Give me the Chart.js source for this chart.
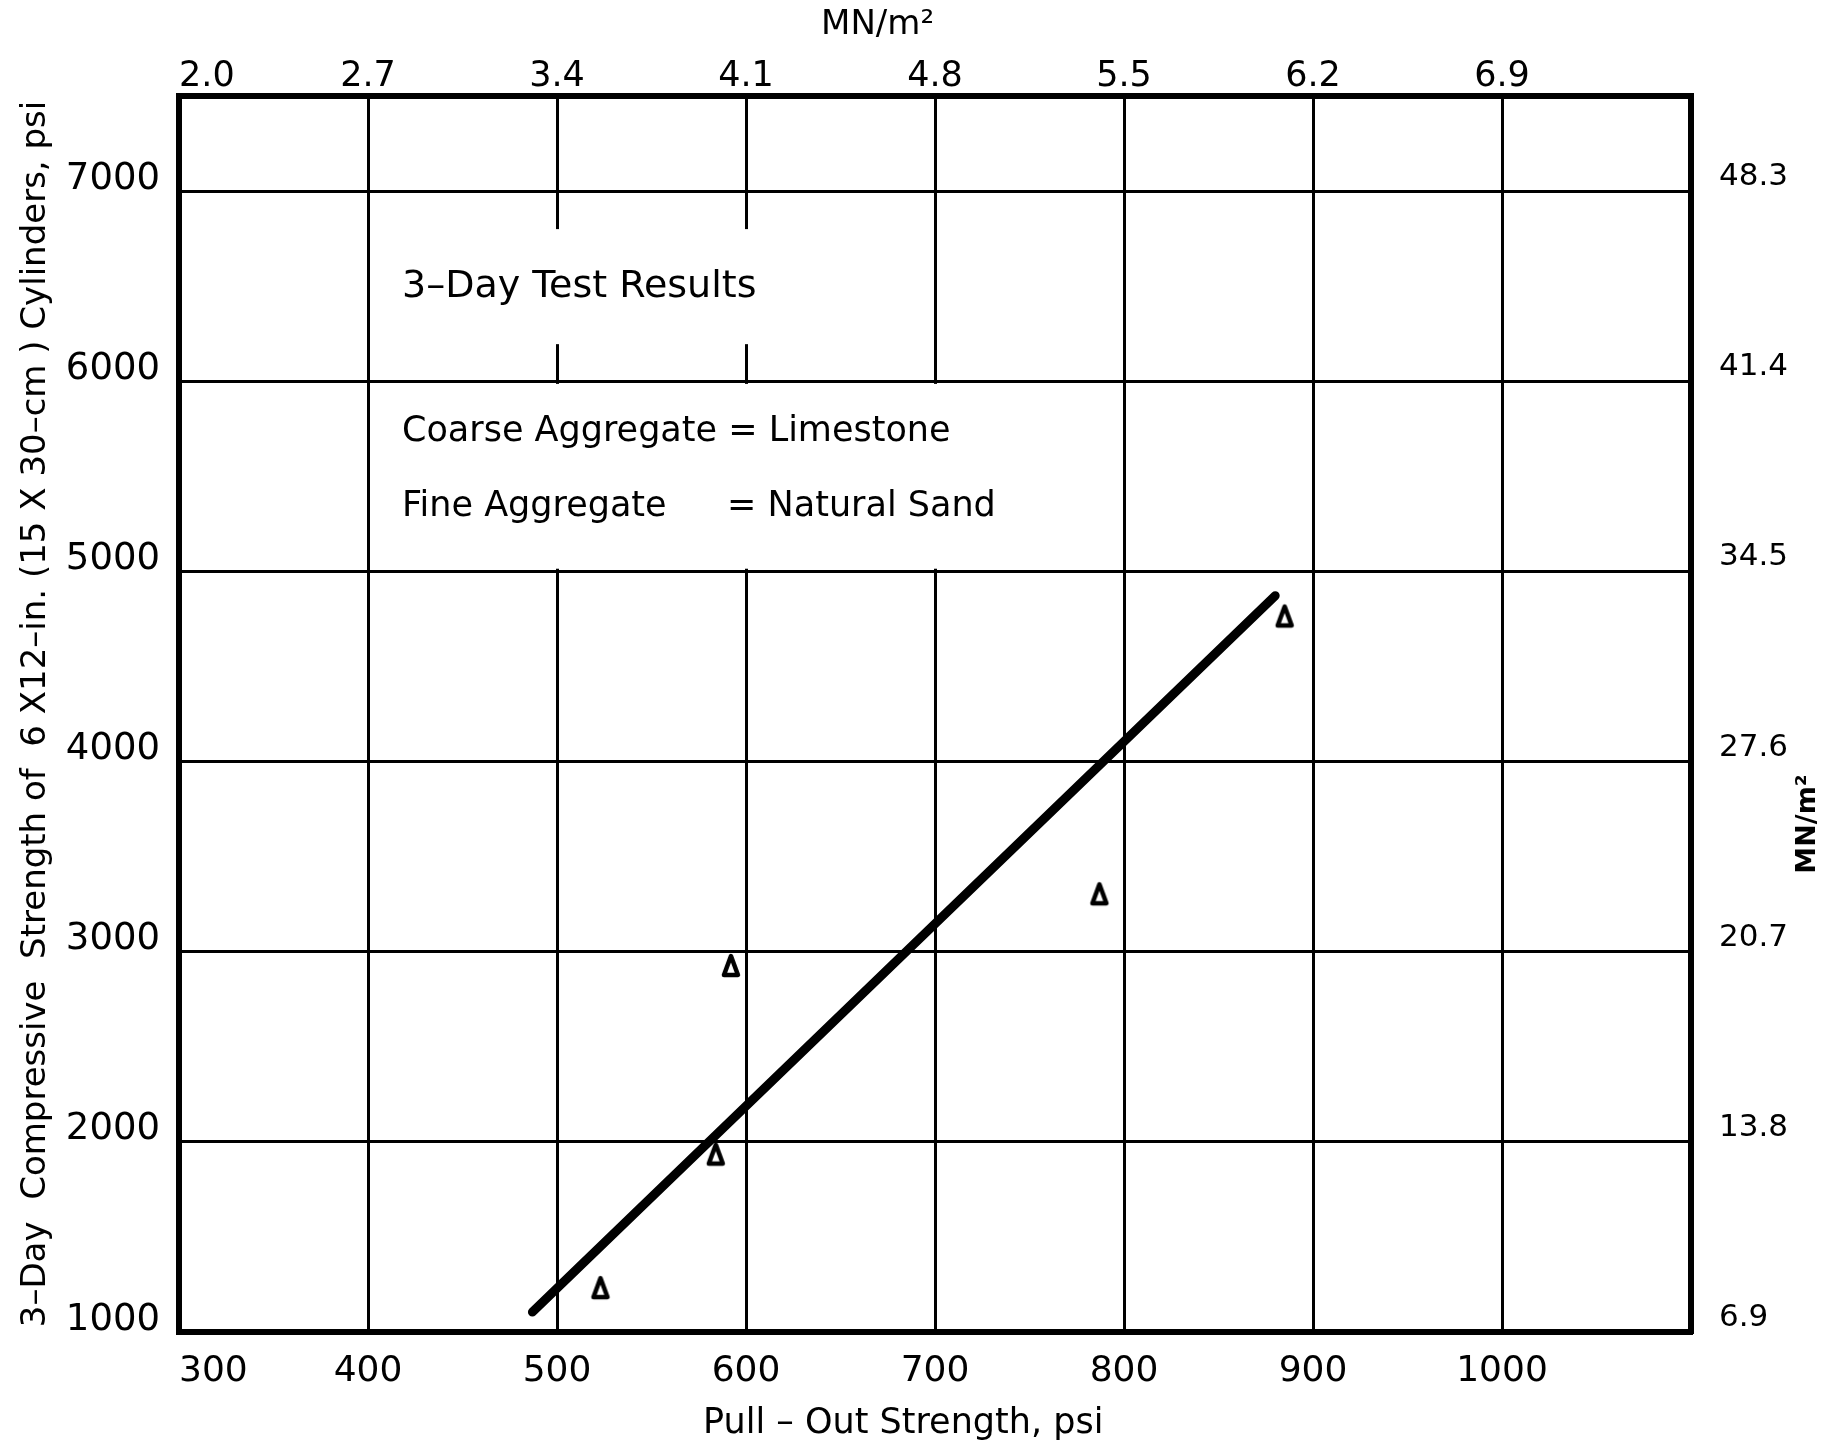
<!DOCTYPE html>
<html>
<head>
<meta charset="utf-8">
<script src="https://cdn.jsdelivr.net/npm/chart.js@4.4.0/dist/chart.umd.min.js"></script>
<style>
html,body{margin:0;padding:0;background:#fff;overflow:hidden}
#wrap{width:1831px;height:1445px;position:relative}
</style>
</head>
<body>
<div id="wrap"><canvas id="c"></canvas></div>
<script>
// ---- data ----
const xTicks = [300, 400, 500, 600, 700, 800, 900, 1000, 1100];
const xBottomLabels = ['300', '400', '500', '600', '700', '800', '900', '1000'];
const xTopLabels = ['2.0', '2.7', '3.4', '4.1', '4.8', '5.5', '6.2', '6.9'];
const yTicks = [1000, 2000, 3000, 4000, 5000, 6000, 7000];
const yLeftLabels = ['1000', '2000', '3000', '4000', '5000', '6000', '7000'];
const yRightLabels = ['6.9', '13.8', '20.7', '27.6', '34.5', '41.4', '48.3'];
const pullOut = [523, 584, 592, 787, 885];
const compressive = [1231, 1933, 2925, 3302, 4763];
const fitX = [487, 880];
const fitY = [1105, 4872];

// ---- styling / layout ----
const FONT = 'DejaVu Sans';
const notes = [
  { text: '3\u2013Day Test Results', x: 418, y: 6495, size: 38 },
  { text: 'Coarse Aggregate = Limestone', x: 418, y: 5732, size: 35 },
  { text: 'Fine Aggregate', x: 418, y: 5337, size: 35 },
  { text: '= Natural Sand', x: 590, y: 5337, size: 35 }
];
const masks = [
  { x0: 450, x1: 650, y0: 6195, y1: 6800 },
  { x0: 450, x1: 750, y0: 5014, y1: 5986 }
];

function triangleMarker() {
  const c = document.createElement('canvas');
  c.width = 24; c.height = 28;
  const g = c.getContext('2d');
  g.lineWidth = 4.5; g.lineJoin = 'round';
  g.strokeStyle = '#000'; g.fillStyle = '#fff';
  g.beginPath();
  g.moveTo(12, 4); g.lineTo(19, 23); g.lineTo(5, 23); g.closePath();
  g.fill(); g.stroke();
  return c;
}

const scatterPts = pullOut.map((v, i) => ({ x: v, y: compressive[i] }));
const linePts = fitX.map((v, i) => ({ x: v, y: fitY[i] }));

const annotatePlugin = {
  id: 'annotate',
  beforeDatasetsDraw(chart) {
    const { ctx, scales: { x, y } } = chart;
    ctx.save();
    ctx.fillStyle = '#fff';
    masks.forEach(m => {
      const px0 = x.getPixelForValue(m.x0), px1 = x.getPixelForValue(m.x1);
      const py0 = y.getPixelForValue(m.y1), py1 = y.getPixelForValue(m.y0);
      ctx.fillRect(px0, py0, px1 - px0, py1 - py0);
    });
    ctx.fillStyle = '#000';
    ctx.textAlign = 'left';
    ctx.textBaseline = 'middle';
    notes.forEach(n => {
      ctx.font = n.size + 'px "' + FONT + '"';
      ctx.fillText(n.text, x.getPixelForValue(n.x), y.getPixelForValue(n.y));
    });
    ctx.restore();
  },
  afterDraw(chart) {
    const { ctx, chartArea: a } = chart;
    ctx.save();
    ctx.fillStyle = '#000';
    ctx.textAlign = 'center';
    ctx.textBaseline = 'middle';
    ctx.font = '34px "' + FONT + '"';
    ctx.fillText('MN/m\u00B2', a.left + 0.462 * (a.right - a.left), 25);
    ctx.font = '35px "' + FONT + '"';
    ctx.fillText('Pull \u2013 Out Strength, psi', a.left + 0.479 * (a.right - a.left), 1424);
    ctx.translate(1808, a.top + 0.589 * (a.bottom - a.top));
    ctx.rotate(-Math.PI / 2);
    ctx.font = 'bold 27px "' + FONT + '"';
    ctx.fillText('MN/m\u00B2', 0, 0);
    ctx.restore();
  }
};

const setTicks = vals => s => { s.ticks = vals.map(v => ({ value: v })); };

new Chart(document.getElementById('c'), {
  type: 'scatter',
  data: {
    datasets: [
      {
        data: scatterPts,
        pointStyle: triangleMarker(),
        pointRadius: 10,
        showLine: false
      },
      {
        data: linePts,
        showLine: true,
        borderColor: '#000',
        borderWidth: 9,
        borderCapStyle: 'round',
        pointRadius: 0
      }
    ]
  },
  options: {
    responsive: true,
    maintainAspectRatio: false,
    animation: false,
    layout: { padding: 0 },
    plugins: { legend: { display: false }, tooltip: { enabled: false } },
    scales: {
      x: {
        type: 'linear', position: 'bottom', min: 300, max: 1100,
        afterBuildTicks: setTicks(xTicks),
        afterFit: s => { s.height = 113; },
        grid: { color: '#000', lineWidth: 3, drawTicks: false },
        border: { display: true, color: '#000', width: 6 },
        ticks: {
          color: '#000', padding: 22, align: 'inner', maxRotation: 0, autoSkip: false,
          font: { family: FONT, size: 36, lineHeight: 1 },
          callback: (v, i) => xBottomLabels[i] ?? ''
        }
      },
      x2: {
        type: 'linear', position: 'top', min: 300, max: 1100,
        afterBuildTicks: setTicks(xTicks),
        afterFit: s => { s.height = 96; },
        grid: { display: false, drawTicks: false, lineWidth: 3 },
        border: { display: true, color: '#000', width: 6 },
        ticks: {
          color: '#000', padding: 2, align: 'inner', maxRotation: 0, autoSkip: false,
          font: { family: FONT, size: 35, lineHeight: 1 },
          callback: (v, i) => xTopLabels[i] ?? ''
        }
      },
      y: {
        type: 'linear', position: 'left', min: 1000, max: 7500,
        afterBuildTicks: setTicks(yTicks),
        afterFit: s => { s.width = 179; },
        grid: { color: '#000', lineWidth: 3, drawTicks: false },
        border: { display: true, color: '#000', width: 6 },
        title: {
          display: true, color: '#000',
          text: '3\u2013Day  Compressive  Strength of  6 X12\u2013in. (15 X 30\u2013cm ) Cylinders, psi',
          font: { family: FONT, size: 34 },
          padding: { top: 16, bottom: 0 }
        },
        ticks: {
          color: '#000', padding: 19, labelOffset: -12, autoSkip: false,
          font: { family: FONT, size: 37, lineHeight: 1 },
          callback: (v, i) => yLeftLabels[i] ?? ''
        }
      },
      y2: {
        type: 'linear', position: 'right', min: 1000, max: 7500,
        afterBuildTicks: setTicks(yTicks),
        afterFit: s => { s.width = 140; },
        grid: { display: false, drawTicks: false, lineWidth: 3 },
        border: { display: true, color: '#000', width: 6 },
        ticks: {
          color: '#000', padding: 28, labelOffset: -14, autoSkip: false,
          font: { family: FONT, size: 31, lineHeight: 1 },
          callback: (v, i) => yRightLabels[i] ?? ''
        }
      }
    }
  },
  plugins: [annotatePlugin]
});
</script>
</body>
</html>
